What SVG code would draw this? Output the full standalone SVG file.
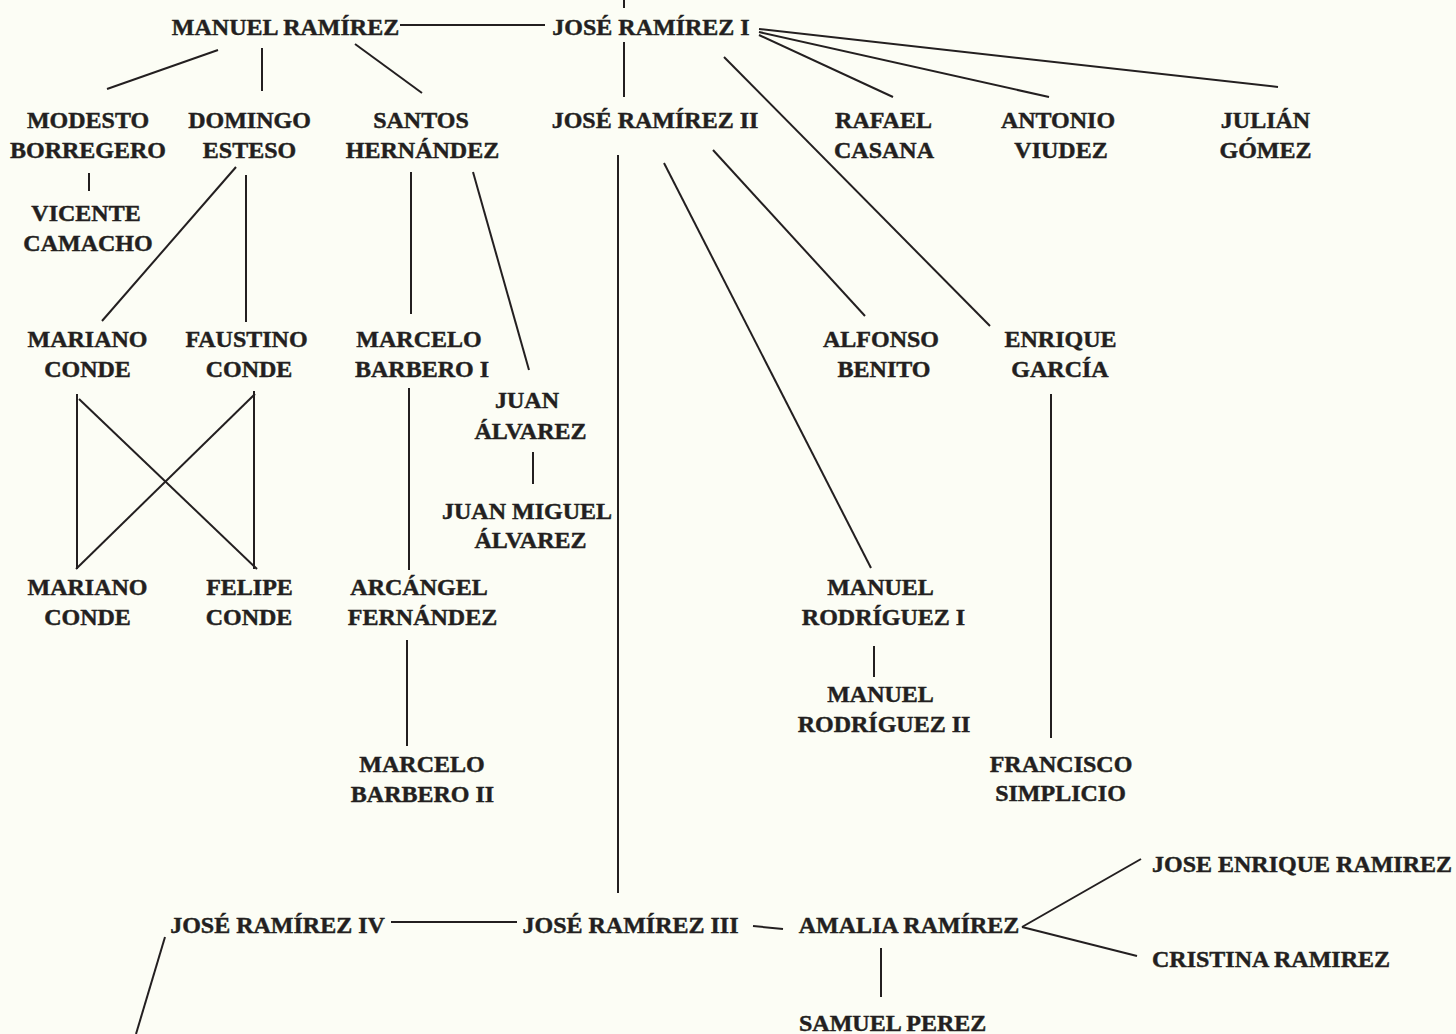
<svg xmlns="http://www.w3.org/2000/svg" width="1456" height="1034" viewBox="0 0 1456 1034">
<style>
.bg{fill:#FCFDF5}
text{font-family:"Liberation Serif","Times New Roman",serif;font-weight:bold;font-size:24px;fill:#231F20;stroke:#231F20;stroke-width:0.45;text-anchor:middle}
text.l{text-anchor:start}
#connectors line{stroke:#231F20;stroke-width:2;fill:none}
</style>
<rect class="bg" x="0" y="0" width="1456" height="1034"/>
<g id="connectors">
<line x1="624" y1="0" x2="624" y2="8"/>
<line x1="400" y1="25" x2="545" y2="25"/>
<line x1="624" y1="42" x2="624" y2="97"/>
<line x1="218" y1="50" x2="107" y2="89"/>
<line x1="262" y1="48" x2="262" y2="91"/>
<line x1="355" y1="44" x2="422" y2="93"/>
<line x1="759" y1="35" x2="893" y2="97"/>
<line x1="759" y1="32" x2="1049" y2="97"/>
<line x1="759" y1="29" x2="1278" y2="87"/>
<line x1="724" y1="57" x2="990" y2="326"/>
<line x1="89" y1="173" x2="89" y2="191"/>
<line x1="236" y1="167" x2="102" y2="321"/>
<line x1="246" y1="175" x2="246" y2="322"/>
<line x1="411" y1="172" x2="411" y2="314"/>
<line x1="473" y1="172" x2="529" y2="370"/>
<line x1="533" y1="452" x2="533" y2="484"/>
<line x1="77" y1="394" x2="77" y2="569"/>
<line x1="254" y1="391" x2="254" y2="569"/>
<line x1="79" y1="399" x2="257" y2="569"/>
<line x1="255" y1="394" x2="76" y2="569"/>
<line x1="409" y1="388" x2="409" y2="570"/>
<line x1="407" y1="640" x2="407" y2="746"/>
<line x1="618" y1="155" x2="618" y2="893"/>
<line x1="664" y1="163" x2="871" y2="568"/>
<line x1="713" y1="150" x2="865" y2="316"/>
<line x1="874" y1="646" x2="874" y2="677"/>
<line x1="1051" y1="394" x2="1051" y2="738"/>
<line x1="391" y1="922" x2="517" y2="922"/>
<line x1="753" y1="926" x2="783" y2="929"/>
<line x1="165" y1="937" x2="136" y2="1034"/>
<line x1="1022" y1="927" x2="1141" y2="859"/>
<line x1="1022" y1="927" x2="1137" y2="956"/>
<line x1="881" y1="948" x2="881" y2="997"/>
</g>
<g id="manuel-ramirez"><text x="285.5" y="35">MANUEL RAMÍREZ</text></g>
<g id="jose-ramirez-i"><text x="651" y="35">JOSÉ RAMÍREZ I</text></g>
<g id="modesto-borregero"><text x="88"  y="128"><tspan x="88" dy="0">MODESTO</tspan><tspan x="88" dy="30">BORREGERO</tspan></text></g>
<g id="domingo-esteso"><text x="249.5" y="128"><tspan x="249.5" dy="0">DOMINGO</tspan><tspan x="249.5" dy="30">ESTESO</tspan></text></g>
<g id="santos-hernandez"><text x="421" y="128"><tspan x="421" dy="0">SANTOS</tspan><tspan x="422.5" dy="30">HERNÁNDEZ</tspan></text></g>
<g id="jose-ramirez-ii"><text x="655" y="128">JOSÉ RAMÍREZ II</text></g>
<g id="rafael-casana"><text x="883.5" y="128"><tspan x="883.5" dy="0">RAFAEL</tspan><tspan x="884" dy="30">CASANA</tspan></text></g>
<g id="antonio-viudez"><text x="1058" y="128"><tspan x="1058" dy="0">ANTONIO</tspan><tspan x="1061" dy="30">VIUDEZ</tspan></text></g>
<g id="julian-gomez"><text x="1265.5" y="128"><tspan x="1265.5" dy="0">JULIÁN</tspan><tspan x="1265.5" dy="30">GÓMEZ</tspan></text></g>
<g id="vicente-camacho"><text x="87" y="221"><tspan x="86" dy="0">VICENTE</tspan><tspan x="88" dy="30">CAMACHO</tspan></text></g>
<g id="mariano-conde-1"><text x="87.5" y="347"><tspan x="87.5" dy="0">MARIANO</tspan><tspan x="87.5" dy="30">CONDE</tspan></text></g>
<g id="faustino-conde"><text x="247" y="347"><tspan x="246.5" dy="0">FAUSTINO</tspan><tspan x="249" dy="30">CONDE</tspan></text></g>
<g id="marcelo-barbero-i"><text x="420" y="347"><tspan x="419" dy="0">MARCELO</tspan><tspan x="422" dy="30">BARBERO I</tspan></text></g>
<g id="juan-alvarez"><text x="527" y="408"><tspan x="527" dy="0">JUAN</tspan><tspan x="530.5" dy="31">ÁLVAREZ</tspan></text></g>
<g id="juan-miguel-alvarez"><text x="527" y="519"><tspan x="527" dy="0">JUAN MIGUEL</tspan><tspan x="530.5" dy="29">ÁLVAREZ</tspan></text></g>
<g id="alfonso-benito"><text x="881" y="347"><tspan x="881" dy="0">ALFONSO</tspan><tspan x="884" dy="30">BENITO</tspan></text></g>
<g id="enrique-garcia"><text x="1060.5" y="347"><tspan x="1060.5" dy="0">ENRIQUE</tspan><tspan x="1060" dy="30">GARCÍA</tspan></text></g>
<g id="mariano-conde-2"><text x="87.5" y="595"><tspan x="87.5" dy="0">MARIANO</tspan><tspan x="87.5" dy="30">CONDE</tspan></text></g>
<g id="felipe-conde"><text x="249.5" y="595"><tspan x="249.5" dy="0">FELIPE</tspan><tspan x="249" dy="30">CONDE</tspan></text></g>
<g id="arcangel-fernandez"><text x="420" y="595"><tspan x="419" dy="0">ARCÁNGEL</tspan><tspan x="422.5" dy="30">FERNÁNDEZ</tspan></text></g>
<g id="manuel-rodriguez-i"><text x="881" y="595"><tspan x="880.5" dy="0">MANUEL</tspan><tspan x="883.5" dy="30">RODRÍGUEZ I</tspan></text></g>
<g id="manuel-rodriguez-ii"><text x="881" y="702"><tspan x="880.5" dy="0">MANUEL</tspan><tspan x="884" dy="30">RODRÍGUEZ II</tspan></text></g>
<g id="marcelo-barbero-ii"><text x="422" y="772"><tspan x="422" dy="0">MARCELO</tspan><tspan x="422.5" dy="30">BARBERO II</tspan></text></g>
<g id="francisco-simplicio"><text x="1061" y="772"><tspan x="1061" dy="0">FRANCISCO</tspan><tspan x="1060.5" dy="29">SIMPLICIO</tspan></text></g>
<g id="jose-enrique-ramirez"><text class="l" x="1152" y="872">JOSE ENRIQUE RAMIREZ</text></g>
<g id="jose-ramirez-iv"><text x="277.5" y="933">JOSÉ RAMÍREZ IV</text></g>
<g id="jose-ramirez-iii"><text x="630.5" y="933">JOSÉ RAMÍREZ III</text></g>
<g id="amalia-ramirez"><text x="909" y="933">AMALIA RAMÍREZ</text></g>
<g id="cristina-ramirez"><text class="l" x="1152" y="967">CRISTINA RAMIREZ</text></g>
<g id="samuel-perez"><text class="l" x="799" y="1031">SAMUEL PEREZ</text></g>
</svg>
